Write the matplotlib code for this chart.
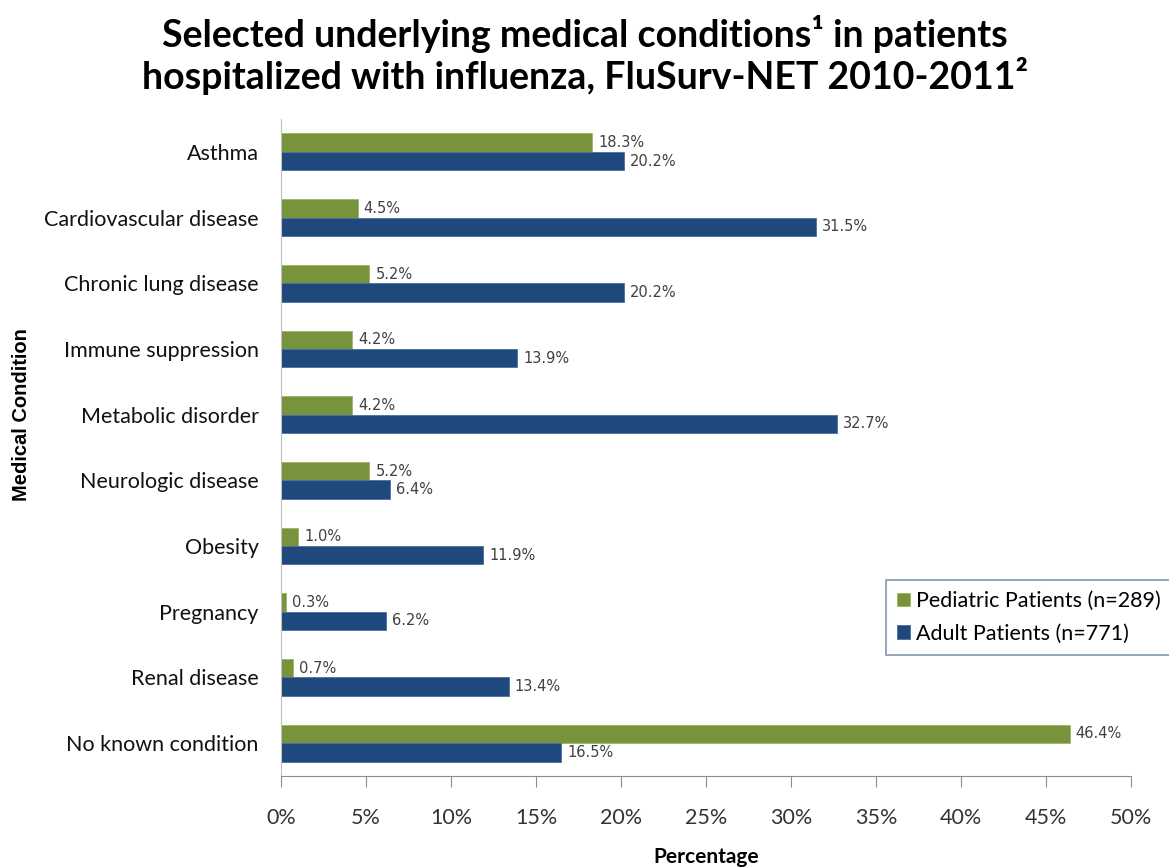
import matplotlib.pyplot as plt
import numpy as np

# data
conditions = ["Asthma", "Cardiovascular disease", "Chronic lung disease",
              "Immune suppression", "Metabolic disorder", "Neurologic disease",
              "Obesity", "Pregnancy", "Renal disease", "No known condition"]
pediatric = [18.3, 4.5, 5.2, 4.2, 4.2, 5.2, 1.0, 0.3, 0.7, 46.4]
adult = [20.2, 31.5, 20.2, 13.9, 32.7, 6.4, 11.9, 6.2, 13.4, 16.5]
series_names = ["Pediatric Patients (n=289)", "Adult Patients (n=771)"]
xticks = np.arange(0, 55, 5)

green = "#77933C"
blue = "#1F497D"
gray = "#8C8C8C"
font = "Lato"

fig = plt.figure(figsize=(11.69, 8.67), dpi=100)
ax = fig.add_axes([0.2404, 0.105, 0.727, 0.7577])

y = np.arange(len(conditions))
h = 0.28
gbars = ax.barh(y - h / 2, pediatric, height=h, color=green, edgecolor="#9BB55E",
                linewidth=0.6, label=series_names[0])
bbars = ax.barh(y + h / 2, adult, height=h, color=blue, edgecolor="#4A6FA0",
                linewidth=0.6, label=series_names[1])

# value labels next to each bar
for bars, vals in ((gbars, pediatric), (bbars, adult)):
    for b, v in zip(bars, vals):
        ax.text(v + 0.35, b.get_y() + b.get_height() / 2, "%.1f%%" % v,
                va="center", ha="left", fontsize=10.5, color="#404040",
                family="DejaVu Sans")

ax.set_ylim(len(conditions) - 0.5, -0.5)
ax.set_xlim(0, 50)
ax.set_xticks(xticks)
ax.set_xticklabels(["%d%%" % t for t in xticks], fontsize=15.5, color="#333333",
                   family=font)
ax.set_yticks(y)
ax.set_yticklabels(conditions, fontsize=15.5, color="#111111", family=font)
ax.tick_params(axis="y", length=0, pad=16)
ax.tick_params(axis="x", length=8, color=gray, pad=15, direction="out")

for s in ("top", "right"):
    ax.spines[s].set_visible(False)
ax.spines["left"].set_color("#BFBFBF")
ax.spines["bottom"].set_color(gray)

ax.set_xlabel("Percentage", fontsize=15, fontweight="bold", family=font,
              labelpad=14)
fig.text(0.018, 0.522, "Medical Condition", rotation=90, fontsize=14.5,
         fontweight="bold", family="Liberation Sans", va="center", ha="center")

fig.text(0.5, 0.961, "Selected underlying medical conditions\u00b9 in patients",
         ha="center", va="center", fontsize=27, fontweight="bold", family=font)
fig.text(0.5, 0.912, "hospitalized with influenza, FluSurv-NET 2010-2011\u00b2",
         ha="center", va="center", fontsize=27, fontweight="bold", family=font)

leg = ax.legend(loc="upper left", bbox_to_anchor=(0.712, 0.298),
                prop={"family": font, "size": 15.5},
                handlelength=0.6, handleheight=0.6, handletextpad=0.3,
                fancybox=False, framealpha=1, borderpad=0.5, labelspacing=0.6,
                borderaxespad=0)
leg.get_frame().set_edgecolor("#8497B0")
leg.get_frame().set_linewidth(1.2)

fig.savefig("out.png", dpi=100)
